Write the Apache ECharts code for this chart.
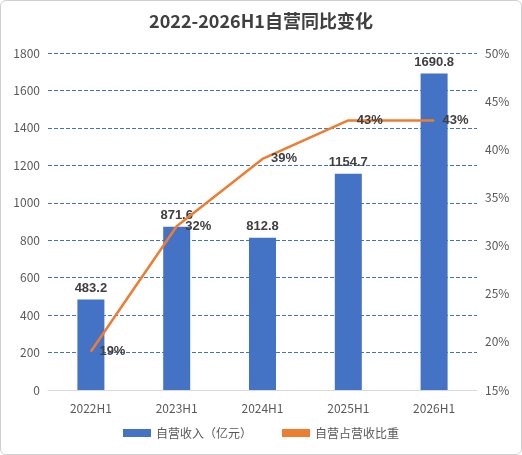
<!DOCTYPE html>
<html><head><meta charset="utf-8">
<script src="https://cdn.jsdelivr.net/npm/echarts@6/dist/echarts.min.js"></script>
<style>html,body{margin:0;padding:0;background:#fff}
#main{width:520px;height:453px;border:1px solid #d0d0d0;border-radius:6px;}</style>
</head><body>
<div id="main"></div>
<script>
const categories = ['2022H1', '2023H1', '2024H1', '2025H1', '2026H1'];
const revenue = [483.2, 871.6, 812.8, 1154.7, 1690.8];
const share = [19, 32, 39, 43, 43];

const chart = echarts.init(document.getElementById('main'));
const axisText = { color: '#595959', fontSize: 12, fontFamily: 'Noto Sans CJK SC' };
const grid = { lineStyle: { color: '#4472C4', type: 'dashed', width: 1 } };

chart.setOption({
  animation: false,
  title: {
    text: '2022-2026H1自营同比变化', left: 'center', top: 6,
    textStyle: { fontSize: 18, fontWeight: 'bold', color: '#404040', fontFamily: 'Noto Sans CJK SC' }
  },
  grid: { left: 47, right: 44, top: 52, bottom: 64 },
  legend: {
    bottom: 10, itemGap: 30, itemWidth: 28, itemHeight: 8,
    textStyle: { color: '#595959', fontSize: 12, fontFamily: 'Noto Sans CJK SC' },
    data: [{ name: '自营收入（亿元）', icon: 'rect' }, { name: '自营占营收比重', icon: 'rect' }]
  },
  xAxis: {
    type: 'category', data: categories,
    axisLine: { lineStyle: { color: '#d9d9d9' } }, axisTick: { show: false },
    axisLabel: Object.assign({ margin: 12 }, axisText)
  },
  yAxis: [
    { type: 'value', min: 0, max: 1800, interval: 200, axisLabel: Object.assign({ formatter: v => String(v) }, axisText), splitLine: grid },
    { type: 'value', min: 15, max: 50, interval: 5, axisLabel: Object.assign({ formatter: '{value}%' }, axisText), splitLine: { show: false } }
  ],
  series: [
    {
      name: '自营收入（亿元）', type: 'bar', data: revenue, barWidth: 27,
      itemStyle: { color: '#4472C4' },
      label: { show: true, position: 'top', fontWeight: 'bold', fontSize: 13, color: '#404040' }
    },
    {
      name: '自营占营收比重', type: 'line', yAxisIndex: 1, data: share,
      symbol: 'circle', symbolSize: 1, lineStyle: { color: '#ED7D31', width: 2.5 }, itemStyle: { color: '#ED7D31' },
      label: { show: true, position: 'right', distance: 8, formatter: '{c}%', fontWeight: 'bold', fontSize: 13, color: '#404040' }
    }
  ]
});
</script>
</body></html>
